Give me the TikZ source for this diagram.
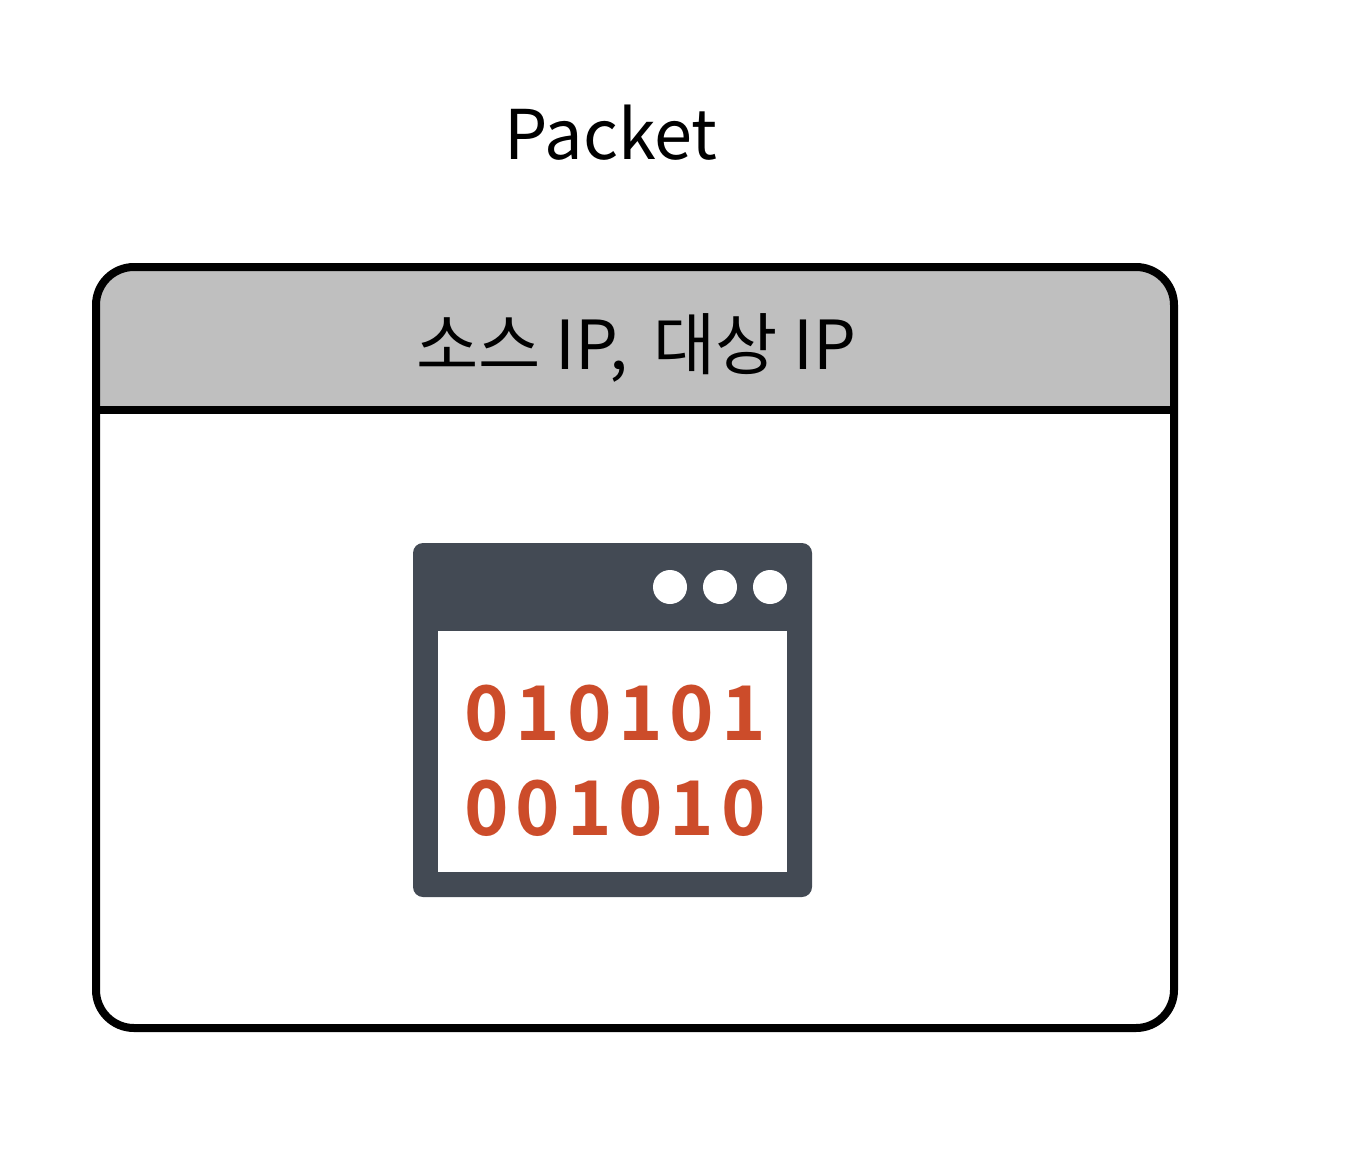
\documentclass[tikz,border=0pt]{standalone}
\usepackage{fontspec}
\setmainfont{Noto Sans CJK KR}
\newfontfamily\digitfont[LetterSpace=9]{Noto Sans CJK KR Bold}
\usetikzlibrary{positioning}
\definecolor{cslate}{HTML}{434A54}
\definecolor{cred}{HTML}{CC4C2A}
\definecolor{cheader}{HTML}{BFBFBF}
\tikzset{
  every picture/.style={x=0.02cm, y=-0.02cm},
  caption/.style={font=\fontsize{39}{39}\selectfont, inner sep=0pt},
  addrtext/.style={font=\fontsize{38.5}{39}\selectfont, inner sep=0pt},
  digits/.style={font=\fontsize{43}{43}\digitfont, text=cred, inner sep=0pt},
  dot/.style={circle, fill=white, minimum size=0.68cm, inner sep=0pt},
  frameline/.style={line width=0.16cm},
}
\begin{document}
\begin{tikzpicture}
  \useasboundingbox (0,0) rectangle (1366,1156);
  \node[caption] (title) at (611,133) {Packet};
  % packet box
  \fill[cheader] (96,410) [rounded corners=0.76cm] -- (96,267) -- (1174,267) [sharp corners] -- (1174,410) -- cycle;
  \draw[frameline, rounded corners=0.76cm] (96,267) rectangle (1174,1028);
  \draw[frameline] (96,410) -- (1174,410);
  \node[addrtext] (addr) at (636,348) {소스 IP{},\hspace{0.2cm} 대상 IP};
  % binary window
  \fill[cslate, rounded corners=0.2cm] (413,543) rectangle (812,897);
  \fill[white] (438,631) rectangle (787,872);
  \node[dot] (d1) at (670,587) {};
  \node[dot] (d2) at (720,587) {};
  \node[dot] (d3) at (770,587) {};
  \node[digits] (row1) at (615,713) {010101};
  \node[digits] (row2) at (615,808) {001010};
\end{tikzpicture}
\end{document}
